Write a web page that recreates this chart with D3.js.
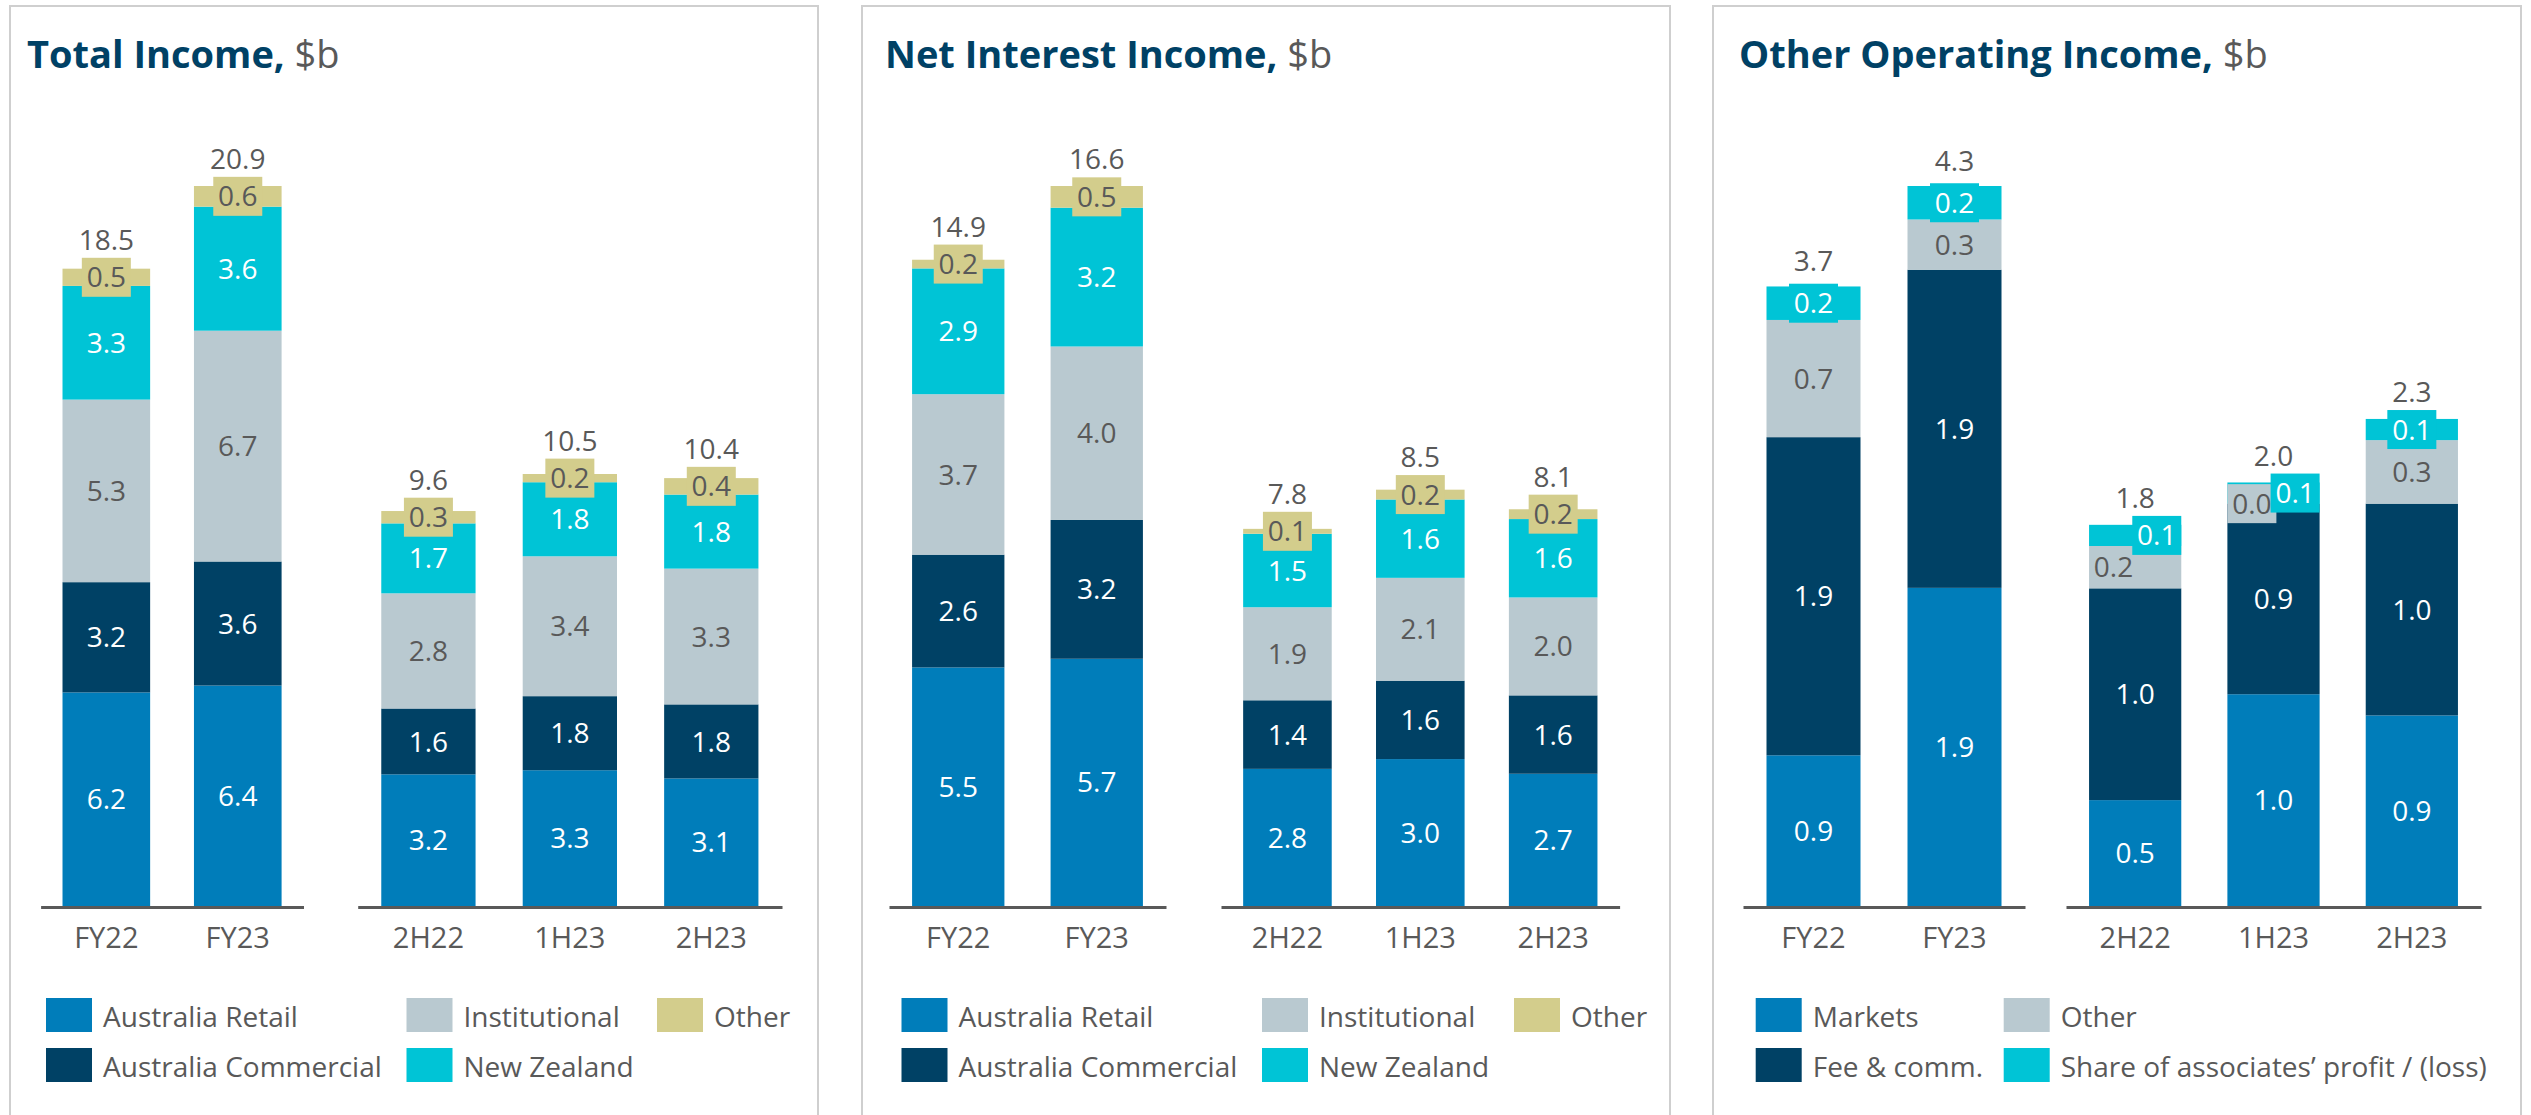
<!DOCTYPE html>
<html lang="en">
<head>
<meta charset="UTF-8">
<title>Income, $b</title>
<script src="https://cdn.jsdelivr.net/npm/d3@7/dist/d3.min.js"></script>
<style>
    body { margin: 0; background: #fff; }
    text { font-family: "Open Sans", sans-serif; }
</style>
</head>
<body>
<svg width="2531" height="1115"></svg>
<script>
    // periods: full years then halves
    const fyPeriods = ['FY22', 'FY23'];
    const hyPeriods = ['2H22', '1H23', '2H23'];
    const periods = fyPeriods.concat(hyPeriods);

    // Total Income, $b
    const incomeKeys = ['Australia Retail', 'Australia Commercial', 'Institutional', 'New Zealand', 'Other'];
    const tiRetail = [6.2, 6.4, 3.2, 3.3, 3.1];
    const tiCommercial = [3.2, 3.6, 1.6, 1.8, 1.8];
    const tiInstitutional = [5.3, 6.7, 2.8, 3.4, 3.3];
    const tiNZ = [3.3, 3.6, 1.7, 1.8, 1.8];
    const tiOther = [0.5, 0.6, 0.3, 0.2, 0.4];
    const tiTotals = [18.5, 20.9, 9.6, 10.5, 10.4];

    // Net Interest Income, $b
    const niiRetail = [5.5, 5.7, 2.8, 3.0, 2.7];
    const niiCommercial = [2.6, 3.2, 1.4, 1.6, 1.6];
    const niiInstitutional = [3.7, 4.0, 1.9, 2.1, 2.0];
    const niiNZ = [2.9, 3.2, 1.5, 1.6, 1.6];
    const niiOther = [0.2, 0.5, 0.1, 0.2, 0.2];
    const niiTotals = [14.9, 16.6, 7.8, 8.5, 8.1];

    // Other Operating Income, $b
    const ooiKeys = ['Markets', 'Fee & comm.', 'Other', 'Share of associates’ profit / (loss)'];
    const ooiMarkets = [0.9, 1.9, 0.5, 1.0, 0.9];
    const ooiFee = [1.9, 1.9, 1.0, 0.9, 1.0];
    const ooiOther = [0.7, 0.3, 0.2, 0.0, 0.3];
    const ooiShare = [0.2, 0.2, 0.1, 0.1, 0.1];
    const ooiTotals = [3.7, 4.3, 1.8, 2.0, 2.3];

    const BLUE = '#007dba', NAVY = '#004165', GREY = '#b9c9d0', CYAN = '#00c4d6', KHAKI = '#d3cd8c';
    const DARKTEXT = '#595959';

    const panels = [
        {title: 'Total Income', x: 10, titleX: 17, keys: incomeKeys,
            series: [tiRetail, tiCommercial, tiInstitutional, tiNZ, tiOther], totals: tiTotals,
            colors: [BLUE, NAVY, GREY, CYAN, KHAKI], hyMax: 17.5,
            fyAxis: [30.6, 293.5], hyAxis: [347.7, 772], legendX: [36, 396.5, 647]},
        {title: 'Net Interest Income', x: 862, titleX: 23, keys: incomeKeys,
            series: [niiRetail, niiCommercial, niiInstitutional, niiNZ, niiOther], totals: niiTotals,
            colors: [BLUE, NAVY, GREY, CYAN, KHAKI], hyMax: 14.7,
            fyAxis: [27, 304], hyAxis: [359, 757.6], legendX: [39.5, 400, 652]},
        {title: 'Other Operating Income', x: 1713, titleX: 26, keys: ooiKeys,
            series: [ooiMarkets, ooiFee, ooiOther, ooiShare], totals: ooiTotals,
            colors: [BLUE, NAVY, GREY, CYAN], hyMax: 3.4,
            fyAxis: [30, 312], hyAxis: [353, 768], legendX: [42.7, 290.7]}
    ];

    const svg = d3.select('svg');
    const axisY = 906, topY = 186;
    const boxW = 49, boxH = 39;
    const fmt = d3.format('.1f');
    const lightFills = [GREY, KHAKI];

    panels.forEach(function (p) {
        let g = svg.append('g').attr('transform', 'translate(' + p.x + ',0)');

        g.append('rect')
            .attr('x', 0).attr('y', 6)
            .attr('width', 808).attr('height', 1200)
            .attr('fill', 'none')
            .attr('stroke', '#cfcfcf')
            .attr('stroke-width', 2);

        let title = g.append('text')
            .attr('x', p.titleX).attr('y', 68)
            .style('font-size', '38px');
        title.append('tspan').attr('font-weight', 700).attr('fill', NAVY).text(p.title + ',');
        title.append('tspan').attr('fill', DARKTEXT).text(' $b');

        let rows = periods.map(function (per, i) {
            let r = {period: per, total: p.totals[i]};
            p.keys.forEach(function (k, j) { r[k] = p.series[j][i]; });
            return r;
        });
        let stacked = d3.stack().keys(p.keys)(rows);
        let color = d3.scaleOrdinal(p.keys, p.colors);

        let fyMax = d3.max(stacked[stacked.length - 1].filter(d => fyPeriods.includes(d.data.period)), d => d[1]);
        let groups = [
            {periods: fyPeriods, range: p.fyAxis, max: fyMax},
            {periods: hyPeriods, range: p.hyAxis, max: p.hyMax}
        ];

        groups.forEach(function (grp) {
            let x = d3.scaleBand().domain(grp.periods).range(grp.range)
                .paddingInner(1 / 3).paddingOuter(1 / 6);
            let y = d3.scaleLinear().domain([0, grp.max]).range([axisY, topY]);

            let layers = g.append('g').selectAll('g')
                .data(stacked)
                .enter()
                .append('g')
                .attr('fill', d => color(d.key));
            layers.selectAll('rect')
                .data(d => d.filter(e => grp.periods.includes(e.data.period)))
                .enter()
                .append('rect')
                .attr('x', d => x(d.data.period))
                .attr('y', d => y(d[1]))
                .attr('width', x.bandwidth())
                .attr('height', d => y(d[0]) - y(d[1]));

            // value labels, small segments get a coloured box
            grp.periods.forEach(function (per) {
                let i = periods.indexOf(per);
                let left = x(per), right = x(per) + x.bandwidth(), mid = left + x.bandwidth() / 2;
                let segs = stacked.map(function (layer) {
                    let d = layer[i];
                    let s = {key: layer.key, value: d.data[layer.key], y0: y(d[0]), y1: y(d[1]), shift: 0};
                    s.h = s.y0 - s.y1;
                    s.cy = (s.y0 + s.y1) / 2;
                    s.boxed = s.h < boxH - 1;
                    return s;
                });
                // two crowded labels: lower one goes left, boxed upper one right
                for (let j = 1; j < segs.length; j++) {
                    if (segs[j].boxed && segs[j - 1].h < 46) {
                        segs[j - 1].shift = -1;
                        segs[j].shift = 1;
                    }
                }
                let lg = g.append('g');
                let topBox = Infinity;
                segs.forEach(function (s) {
                    let cx = s.shift < 0 ? left + boxW / 2 : s.shift > 0 ? right - boxW / 2 : mid;
                    if (s.boxed) {
                        lg.append('rect')
                            .attr('x', cx - boxW / 2).attr('y', s.cy - boxH / 2)
                            .attr('width', boxW).attr('height', boxH)
                            .attr('fill', color(s.key));
                        topBox = Math.min(topBox, s.cy - boxH / 2);
                    }
                    lg.append('text')
                        .attr('x', cx).attr('y', s.cy)
                        .attr('dy', '0.36em')
                        .attr('text-anchor', 'middle')
                        .style('font-size', '28px')
                        .attr('fill', lightFills.includes(color(s.key)) ? DARKTEXT : '#fff')
                        .text(fmt(s.value));
                });
                let barTop = segs[segs.length - 1].y1;
                lg.append('text')
                    .attr('x', mid)
                    .attr('y', Math.min(barTop - 15, topBox - 8))
                    .attr('text-anchor', 'middle')
                    .style('font-size', '28px')
                    .attr('fill', DARKTEXT)
                    .text(fmt(p.totals[i]));
            });

            let axis = g.append('g')
                .attr('transform', 'translate(0,' + (axisY + 1) + ')')
                .call(d3.axisBottom(x).tickSize(0).tickSizeOuter(0).tickPadding(20));
            axis.select('.domain').attr('stroke', DARKTEXT).attr('stroke-width', 3);
            axis.selectAll('text')
                .style('font-size', '29px')
                .style('font-family', '"Open Sans", sans-serif')
                .attr('fill', DARKTEXT);
        });

        // legend: two rows, filled column by column
        let legend = g.append('g').selectAll('g')
            .data(p.keys)
            .enter()
            .append('g')
            .attr('transform', (d, k) => 'translate(' + p.legendX[Math.floor(k / 2)] + ',' + (998 + (k % 2) * 50) + ')');
        legend.append('rect')
            .attr('width', 46).attr('height', 34)
            .attr('fill', d => color(d));
        legend.append('text')
            .attr('x', 57).attr('y', 29)
            .style('font-size', '28px')
            .attr('fill', DARKTEXT)
            .text(d => d);
    });
</script>
</body>
</html>
